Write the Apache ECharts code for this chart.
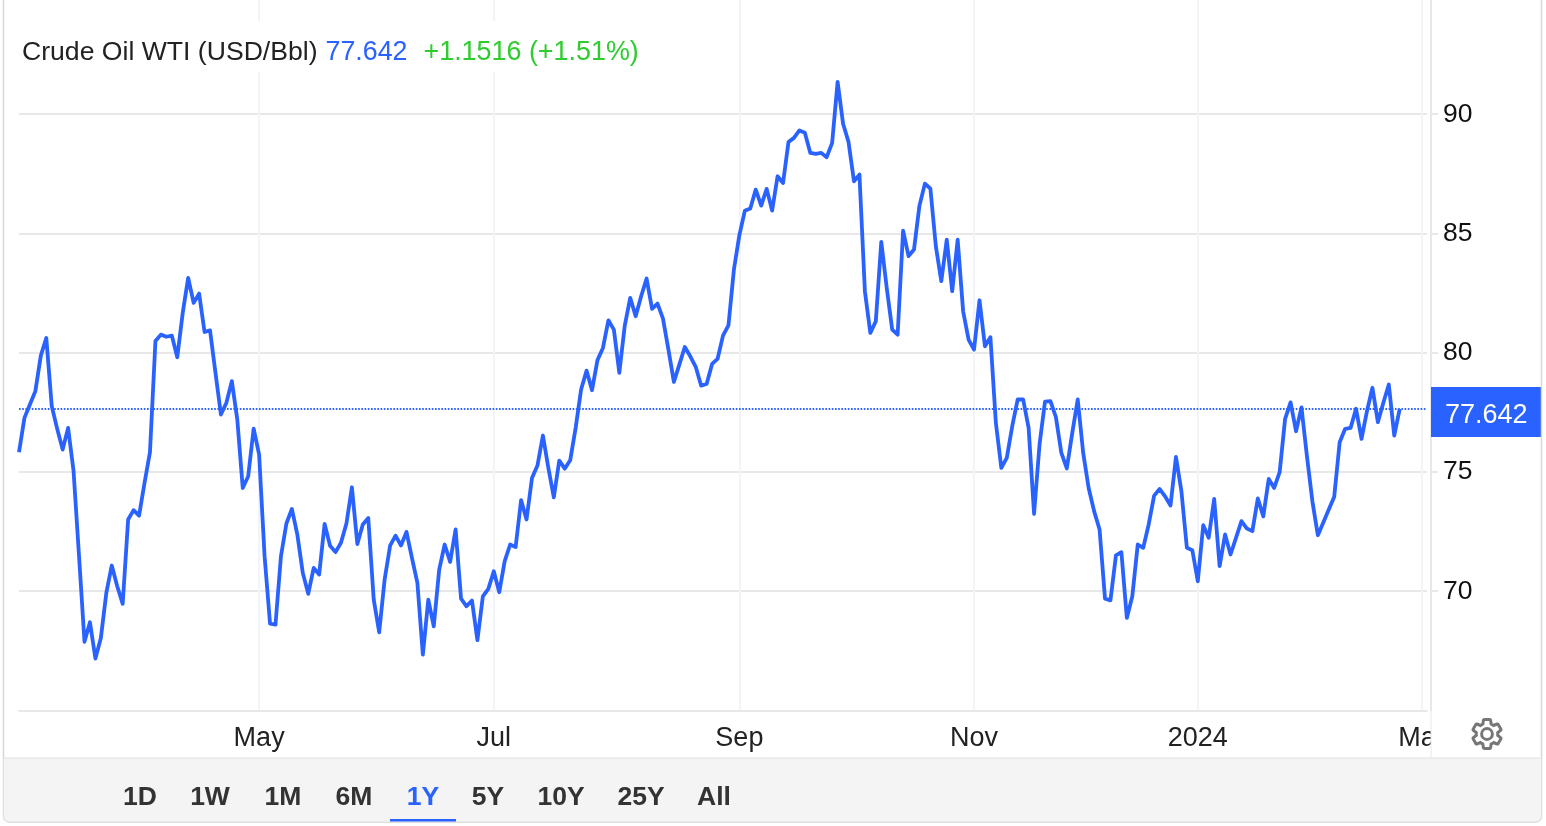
<!DOCTYPE html>
<html>
<head>
    <meta http-equiv="Content-Type" content="text/html; charset=utf-8" />
    <title>Crude Oil WTI</title>
    <style>
        html,body{margin:0;padding:0;background:#fff;}
        #main{width:1546px;height:826px;}
    </style>
</head>
<body>
    <div id="main"></div>
    <script src="https://cdn.jsdelivr.net/npm/echarts@6/dist/echarts.min.js"></script>
    <script type="text/javascript">
        // daily closes, one per trading day
        var prices = [
            75.83,77.27,77.83,78.39,79.88,80.62,77.76,76.81,75.94,76.85,
            75.03,71.47,67.88,68.70,67.18,68.04,69.93,71.08,70.21,69.47,
            73.01,73.40,73.17,74.54,75.83,80.49,80.76,80.67,80.72,79.81,
            81.67,83.14,82.09,82.48,80.87,80.94,79.16,77.41,77.90,78.81,
            77.20,74.33,74.82,76.82,75.73,71.47,68.64,68.60,71.47,72.84,
            73.45,72.38,70.77,69.89,70.98,70.70,72.82,71.91,71.64,72.03,
            72.84,74.36,71.98,72.80,73.07,69.65,68.28,70.49,71.91,72.33,
            71.92,72.49,71.40,70.35,67.34,69.65,68.53,70.91,71.96,71.23,
            72.59,69.69,69.37,69.61,67.95,69.79,70.10,70.84,69.96,71.26,
            71.96,71.85,73.82,73.01,74.75,75.27,76.53,75.17,73.94,75.48,
            75.14,75.49,76.85,78.46,79.25,78.43,79.69,80.20,81.36,80.97,
            79.16,81.14,82.30,81.53,82.37,83.11,81.84,82.06,81.43,80.13,
            78.78,79.50,80.24,79.85,79.41,78.62,78.69,79.53,79.74,80.72,
            81.15,83.49,84.93,85.95,86.05,86.84,86.17,86.87,85.96,87.40,
            87.12,88.84,89.01,89.32,89.22,88.38,88.34,88.38,88.20,88.80,
            91.36,89.60,88.84,87.19,87.47,82.58,80.83,81.32,84.65,82.72,
            80.97,80.76,85.12,84.05,84.33,86.17,87.09,86.88,84.47,83.00,
            84.74,82.58,84.74,81.74,80.55,80.13,82.20,80.27,80.65,77.06,
            75.17,75.59,76.92,78.04,78.04,76.85,73.24,76.15,77.95,77.97,
            77.30,75.80,75.15,76.64,78.04,75.80,74.33,73.36,72.59,69.69,
            69.62,71.50,71.64,68.88,69.79,71.96,71.82,72.80,74.01,74.29,
            73.98,73.59,75.63,74.19,71.82,71.72,70.42,72.77,72.24,73.87,
            71.05,72.38,71.54,72.24,72.94,72.63,72.52,73.89,73.14,74.71,
            74.33,74.99,77.23,77.92,76.71,77.71,75.66,73.77,72.35,72.88,
            73.43,73.96,76.25,76.81,76.85,77.65,76.39,77.55,78.53,77.09,
            77.90,78.67,76.53,77.642
        ];
        var tickIndexes = [44,87,132,175,216,257];
        var tickLabels = ['May','Jul','Sep','Nov','2024','Mar'];
        var yTicks = [70,75,80,85,90];
        var rangeLabels = ['1D','1W','1M','6M','1Y','5Y','10Y','25Y','All'];
        var activeRange = '1Y';
        var lastPrice = 77.642;
        var changeText = '+1.1516 (+1.51%)';

        var BLUE = '#2962ff';
        var GRID = '#e8e8e8';
        var rangeCenters = [140,210,283,354,423,488,561,641,714];

        // 5 empty slots after the last close, the axis runs on past it
        var categories = [];
        for(var i = 0; i < 259; i++){
            categories.push(String(i));
        }

        var gearPath = 'M19.14 12.94c.04-.3.06-.61.06-.94 0-.32-.02-.64-.07-.94l2.03-1.58c.18-.14.23-.41.12-.61l-1.92-3.32c-.12-.22-.37-.29-.59-.22l-2.39.96c-.5-.38-1.03-.7-1.62-.94l-.36-2.54c-.04-.24-.24-.41-.48-.41h-3.84c-.24 0-.43.17-.47.41l-.36 2.54c-.59.24-1.13.57-1.62.94l-2.39-.96c-.22-.08-.47 0-.59.22L2.74 8.87c-.12.21-.08.47.12.61l2.03 1.58c-.05.3-.09.63-.09.94s.02.64.07.94l-2.03 1.58c-.18.14-.23.41-.12.61l1.92 3.32c.12.22.37.29.59.22l2.39-.96c.5.38 1.03.7 1.62.94l.36 2.54c.05.24.24.41.48.41h3.84c.24 0 .44-.17.47-.41l.36-2.54c.59-.24 1.13-.56 1.62-.94l2.39.96c.22.08.47 0 .59-.22l1.92-3.32c.12-.22.07-.47-.12-.61l-2.01-1.58zM12 15.6c-1.98 0-3.6-1.62-3.6-3.6s1.62-3.6 3.6-3.6 3.6 1.62 3.6 3.6-1.62 3.6-3.6 3.6z';
        var gearSvg = '<svg xmlns="http://www.w3.org/2000/svg" width="36" height="36" viewBox="0 0 24 24"><path fill="none" stroke="#777" stroke-width="2" d="' + gearPath + '"/></svg>';

        var graphics = [
            // bottom strip and frame
            {type:'rect', z:50, shape:{x:3.5,y:758,width:1538,height:64,r:[0,0,6,6]}, style:{fill:'#f4f4f4',stroke:'#e0e0e0',lineWidth:1}},
            {type:'rect', z:49, shape:{x:3.5,y:-10,width:1538,height:832,r:6}, style:{fill:'none',stroke:'#d8d8d8',lineWidth:1.5}},
            // hides the end of the Mar label, the plot area cuts it there
            {type:'rect', z:48, shape:{x:1431,y:714,width:100,height:43}, style:{fill:'#fff'}},
            {type:'line', z:48, shape:{x1:1431,y1:710,x2:1431,y2:757}, style:{stroke:GRID,lineWidth:1}},
            {type:'image', z:51, style:{image:'data:image/svg+xml;charset=utf-8,' + encodeURIComponent(gearSvg),x:1469,y:716,width:36,height:36}},
            // active range underline
            {type:'rect', z:52, shape:{x:390,y:819,width:66,height:2.5}, style:{fill:BLUE}}
        ];
        rangeLabels.forEach(function(label, i){
            graphics.push({
                type:'text', z:52, x:rangeCenters[i], y:798,
                style:{
                    text:label, align:'center', verticalAlign:'middle',
                    font:'bold 26.5px "Liberation Sans"',
                    fill:label === activeRange ? BLUE : '#333'
                }
            });
        });

        var option = {
            animation:false,
            backgroundColor:'#fff',
            title:{
                left:18, top:21,
                padding:[18,4,6,4],
                backgroundColor:'#fff',
                text:'{a|Crude Oil WTI (USD/Bbl)} {b|' + lastPrice + '}  {c|' + changeText + '}',
                textStyle:{
                    rich:{
                        a:{fontFamily:'Liberation Sans',fontWeight:'normal',fontSize:26.6,color:'#222',padding:[0,3,0,0]},
                        b:{fontFamily:'Liberation Sans',fontWeight:'normal',fontSize:26.8,color:BLUE,padding:[0,6,0,0]},
                        c:{fontFamily:'Liberation Sans',fontWeight:'normal',fontSize:26.9,color:'#2ecc2e'}
                    }
                }
            },
            grid:{left:19, top:0, width:1408, height:710.5},
            xAxis:{
                type:'category',
                data:categories,
                boundaryGap:false,
                axisLine:{lineStyle:{color:GRID,width:2}},
                axisTick:{show:false},
                axisLabel:{
                    interval:function(index){ return tickIndexes.indexOf(index) >= 0; },
                    formatter:function(val, index){ return tickLabels[tickIndexes.indexOf(index)]; },
                    fontFamily:'Liberation Sans',
                    fontSize:27,
                    color:'#222',
                    margin:15,
                    hideOverlap:false
                },
                splitLine:{
                    show:true,
                    interval:function(index){ return tickIndexes.indexOf(index) >= 0; },
                    lineStyle:{color:'#f1f4f8',width:2}
                }
            },
            yAxis:{
                type:'value',
                position:'right',
                offset:4,
                min:65,
                max:94.79,
                interval:5,
                axisLine:{show:true,lineStyle:{color:GRID,width:2}},
                axisTick:{show:true,length:7,lineStyle:{color:GRID,width:2}},
                axisLabel:{
                    showMinLabel:false,
                    showMaxLabel:false,
                    fontFamily:'Liberation Sans',
                    fontSize:26.5,
                    color:'#111',
                    margin:12,
                    formatter:function(val){ return yTicks.indexOf(val) >= 0 ? String(val) : ''; }
                },
                splitLine:{show:true,showMaxLine:false,lineStyle:{color:GRID,width:2}}
            },
            series:[{
                type:'line',
                data:prices,
                showSymbol:false,
                smooth:false,
                lineStyle:{color:BLUE,width:3.8,join:'round'},
                markLine:{
                    silent:true,
                    symbol:'none',
                    lineStyle:{color:BLUE,width:1.8,type:[1.6,1.6]},
                    label:{
                        show:true,
                        position:'end',
                        distance:4,
                        offset:[0,3],
                        formatter:'{t|' + lastPrice + '}',
                        backgroundColor:BLUE,
                        padding:[7.5,14,7.5,14],
                        rich:{
                            t:{
                                fontFamily:'Liberation Sans',
                                fontSize:27,
                                color:'#fff',
                                padding:[8,0,0,0]
                            }
                        }
                    },
                    data:[{yAxis:lastPrice}]
                }
            }],
            graphic:graphics
        };

        var myChart = echarts.init(document.getElementById('main'));
        myChart.setOption(option);
    </script>
</body>
</html>
